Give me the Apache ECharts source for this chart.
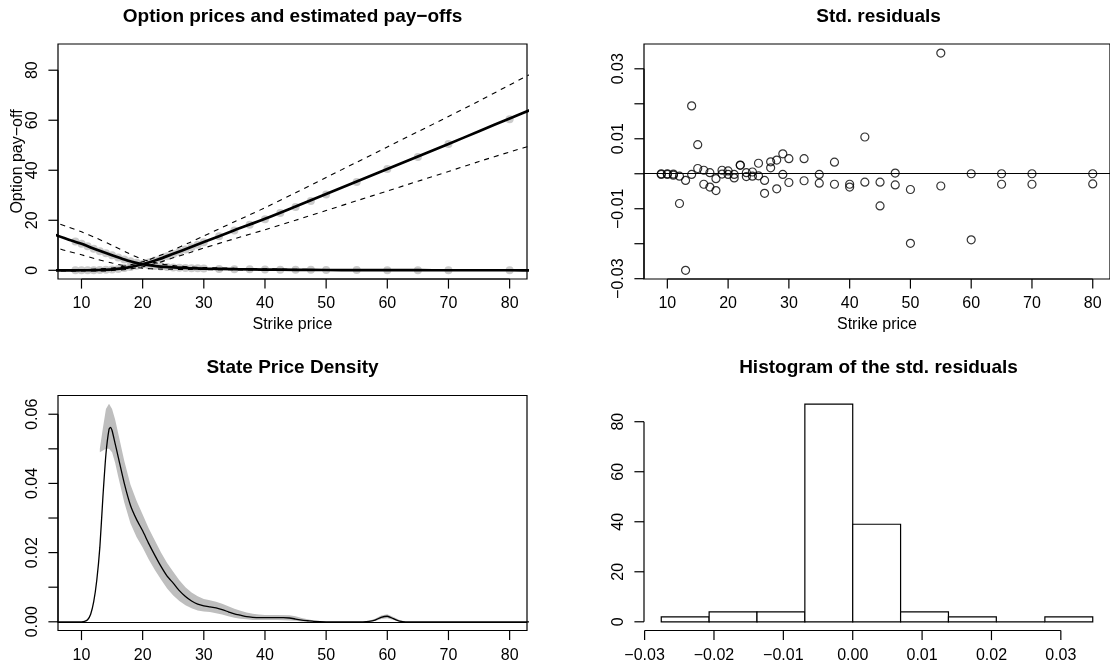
<!DOCTYPE html>
<html><head><meta charset="utf-8">
<script src="https://cdn.jsdelivr.net/npm/echarts@6/dist/echarts.min.js"></script>
<style>html,body{margin:0;padding:0;background:#fff}#c{width:1110px;height:669px}</style>
</head><body><div id="c"></div>
<script>
const FONT = '"Liberation Sans", Arial, Helvetica, sans-serif';

// ---- Panel 1: option prices and estimated pay-offs ----
const curveK   = [5, 7.5, 10, 12.5, 15, 17.5, 20, 22.5, 25, 27.5, 30, 35, 40, 45, 50, 55, 60, 65, 70, 75, 80, 85];
const putFit   = [0, 0, 0.02, 0.1, 0.35, 1.1, 2.4, 4.3, 6.6, 8.9, 11.3, 16.0, 20.6, 25.5, 30.5, 35.5, 40.5, 45.5, 50.5, 55.6, 60.7, 65.7];
const putUpper = [0.3, 0.3, 0.3, 0.5, 0.9, 1.9, 3.4, 5.6, 8.2, 10.9, 13.7, 19.4, 25.0, 31.0, 37.1, 43.2, 49.3, 55.4, 61.5, 67.7, 74.1, 80.5];
const putLower = [-0.3, -0.3, -0.3, -0.3, -0.1, 0.4, 1.4, 3.0, 5.0, 6.9, 8.9, 12.6, 16.2, 20.0, 23.9, 27.8, 31.7, 35.6, 39.5, 43.5, 47.3, 50.9];
const callFit   = [14.8, 12.6, 10.6, 8.2, 6.0, 3.9, 2.4, 1.6, 1.15, 0.9, 0.7, 0.45, 0.3, 0.2, 0.12, 0.08, 0.05, 0.03, 0.02, 0.01, 0.01, 0];
const callUpper = [19.8, 17.6, 15.4, 12.8, 10.0, 7.0, 4.4, 2.8, 1.9, 1.4, 1.1, 0.8, 0.6, 0.4, 0.3, 0.2, 0.15, 0.1, 0.1, 0.1, 0.1, 0.1];
const callLower = [9.8, 7.8, 6.2, 4.4, 2.9, 1.6, 0.8, 0.5, 0.4, 0.35, 0.3, 0.2, 0.1, 0.05, 0, 0, 0, 0, 0, 0, 0, 0];

const strikes = [9, 10, 11, 12, 13, 14, 15, 16, 17, 18, 19, 20, 21, 22, 23, 24, 25, 26, 27, 28, 29, 30,
                 32.5, 35, 37.5, 40, 42.5, 45, 47.5, 50, 55, 60, 65, 70, 80];
const putObs  = [0, 0, 0, 0.05, 0.1, 0.2, 0.3, 0.5, 0.9, 1.3, 1.8, 2.4, 3.1, 3.9, 4.7, 5.6, 6.5, 7.4, 8.3, 9.2, 10.2, 11.2,
                 13.6, 15.9, 18.2, 20.4, 22.9, 25.3, 27.7, 30.3, 35.3, 40.5, 45.3, 50.5, 60.4];
const callObs = [11.5, 10.6, 9.6, 8.6, 7.6, 6.8, 6.0, 5.1, 4.3, 3.6, 3.0, 2.4, 2.0, 1.7, 1.5, 1.3, 1.15, 1.05, 0.95, 0.85, 0.8, 0.7,
                 0.55, 0.45, 0.38, 0.3, 0.25, 0.2, 0.18, 0.12, 0.08, 0.05, 0.03, 0.02, 0.01];

// ---- Panel 2: standardized residuals ----
const residA = [-0.0002, -0.0002, -0.0004, -0.0007, -0.0019, -0.0002, 0.0015, 0.0010, 0.0003, -0.0014, 0.0010, 0.0008, -0.0002, 0.0025, 0.0003, 0.0005, 0.0030, -0.0019, 0.0034, 0.0039, 0.0057, 0.0043,
                0.0043, -0.0002, 0.0033, -0.0030, 0.0105, -0.0024, 0.0002, -0.0045, 0.0345, 0.0000, 0.0000, 0.0000, 0.0000];
const residB = [0.0000, 0.0000, -0.0001, -0.0085, -0.0276, 0.0194, 0.0083, -0.0030, -0.0038, -0.0048, -0.0001, -0.0002, -0.0012, 0.0024, -0.0008, -0.0007, -0.0006, -0.0056, 0.0017, -0.0043, -0.0002, -0.0025,
                -0.0020, -0.0027, -0.0030, -0.0038, -0.0024, -0.0092, -0.0032, -0.0199, -0.0035, -0.0189, -0.0030, -0.0030, -0.0029];

// ---- Panel 3: state price density ----
const spdX = [6, 8, 10, 10.5, 11, 11.5, 12, 12.5, 13, 13.5, 14, 14.5, 14.75, 15, 15.5, 16,
              17, 18, 19, 20, 21, 22, 23, 24, 25, 26, 27, 28, 29, 30, 31, 32, 33, 34, 35, 36, 37, 38, 39, 40, 41, 42, 43, 44, 45, 46, 47, 48,
              50, 52, 54, 56, 57, 58, 59, 60, 61, 62, 63, 64, 66, 70, 75, 80, 84];
const spdY = [0, 0, 0, 0.0001, 0.0006, 0.0022, 0.0058, 0.0120, 0.0215, 0.0360, 0.0485, 0.0556, 0.0562, 0.0553, 0.0515, 0.0477,
              0.0400, 0.0337, 0.0296, 0.0263, 0.0226, 0.0192, 0.0160, 0.0132, 0.0112, 0.0090, 0.0073, 0.0060, 0.0051, 0.0046, 0.0043, 0.0040, 0.0035, 0.0029, 0.0023, 0.0019, 0.0015, 0.0013, 0.0012, 0.0012, 0.0012, 0.0012, 0.0012, 0.0011, 0.0008, 0.0005, 0.0003, 0.0001,
              0, 0, 0, 0, 0.0001, 0.0005, 0.0013, 0.0016, 0.0009, 0.0002, 0, 0, 0, 0, 0, 0, 0];
const bandX  = [13, 13.5, 14, 14.5, 15, 15.5, 16,
                17, 18, 19, 20, 21, 22, 23, 24, 25, 26, 27, 28, 29, 30, 31, 32, 33, 34, 35, 36, 37, 38, 39, 40,
                42, 44, 45, 46, 47, 48, 50, 56, 57, 58, 59, 60, 61, 62, 63, 64];
const bandHi = [0.0500, 0.0560, 0.0615, 0.0630, 0.0615, 0.0585, 0.0545,
                0.0465, 0.0397, 0.0350, 0.0310, 0.0270, 0.0235, 0.0200, 0.0170, 0.0145, 0.0120, 0.0100, 0.0085, 0.0074, 0.0066, 0.0062, 0.0058, 0.0052, 0.0045, 0.0038, 0.0032, 0.0027, 0.0023, 0.0021, 0.0020,
                0.0020, 0.0019, 0.0016, 0.0011, 0.0007, 0.0004, 0.0001, 0.0001, 0.0003, 0.0009, 0.0018, 0.0022, 0.0014, 0.0005, 0.0001, 0];
const bandLo = [0.0490, 0.0495, 0.0500, 0.0500, 0.0490, 0.0460, 0.0420,
                0.0345, 0.0285, 0.0245, 0.0215, 0.0180, 0.0150, 0.0122, 0.0096, 0.0076, 0.0060, 0.0048, 0.0039, 0.0033, 0.0030, 0.0028, 0.0025, 0.0021, 0.0016, 0.0012, 0.0009, 0.0007, 0.0005, 0.0005, 0.0005,
                0.0005, 0.0004, 0.0003, 0.0001, 0, 0, 0, 0, 0, 0.0002, 0.0008, 0.0010, 0.0005, 0.0001, 0, 0];

// ---- Panel 4: histogram of residuals ----
const histBreaks = [-0.0276, -0.0207, -0.0138, -0.0069, 0.0000, 0.0069, 0.0138, 0.0207, 0.0277, 0.0346];
const histCounts = [2, 4, 4, 87, 39, 4, 2, 0, 2];

// ---- Ticks and labels ----
const strikeTicks = [10, 20, 30, 40, 50, 60, 70, 80];
const strikeLabels = ['10', '20', '30', '40', '50', '60', '70', '80'];
const payTicks = [0, 20, 40, 60, 80];
const payLabels = ['0', '20', '40', '60', '80'];
const resTicks = [-0.03, -0.02, -0.01, 0, 0.01, 0.02, 0.03];
const resYLabels = ['\u22120.03', '', '\u22120.01', '', '0.01', '', '0.03'];
const resXLabels = ['\u22120.03', '\u22120.02', '\u22120.01', '0.00', '0.01', '0.02', '0.03'];
const spdTicks = [0, 0.01, 0.02, 0.03, 0.04, 0.05, 0.06];
const spdLabels = ['0.00', '', '0.02', '', '0.04', '', '0.06'];
const titles = ['Option prices and estimated pay\u2212offs', 'Std. residuals', 'State Price Density', 'Histogram of the std. residuals'];

// ---- layout ----
const G = [
  {left: 58, top: 44, width: 469, height: 235, box: true},
  {left: 644, top: 44, width: 469, height: 235, box: true},
  {left: 58, top: 395.5, width: 469, height: 235, box: true},
  {left: 644, top: 395.5, width: 469, height: 235, box: false}
];
const XR = [[6.16, 82.84], [6.16, 82.84], [6.16, 82.84], [-0.030088, 0.037088]];
const YR = [[-3.48, 90.48], [-0.030088, 0.037088], [-0.002516, 0.065416], [-3.48, 90.48]];

const LW = 1.2;
function txtStyle(text, size, weight) {
  return {text: text, x: 0, y: 0, font: (weight || 'normal') + ' ' + size + 'px ' + FONT, fill: '#000',
          align: 'center', verticalAlign: 'middle', textAlign: 'center', textVerticalAlign: 'middle'};
}
function rAxis(gi, side, ticks, labels, title) {
  return {
    type: 'custom', xAxisIndex: gi, yAxisIndex: gi, silent: true, z: 10, clip: false,
    data: [[XR[gi][0], YR[gi][0]]],
    renderItem: function (params, api) {
      const cs = params.coordSys;
      const ch = [];
      const TL = 9.6, LG = 25;
      if (side === 'x') {
        const yb = cs.y + cs.height;
        const px = ticks.map(t => api.coord([t, YR[gi][0]])[0]);
        ch.push({type: 'line', shape: {x1: px[0], y1: yb, x2: px[px.length - 1], y2: yb}, style: {stroke: '#000', lineWidth: LW}});
        px.forEach((p, i) => {
          ch.push({type: 'line', shape: {x1: p, y1: yb, x2: p, y2: yb + TL}, style: {stroke: '#000', lineWidth: LW}});
          if (labels[i]) ch.push({type: 'text', x: p, y: yb + LG, style: txtStyle(labels[i], 16)});
        });
        if (title) ch.push({type: 'text', x: cs.x + cs.width / 2, y: yb + 46, style: txtStyle(title, 16)});
      } else {
        const xl = cs.x;
        const py = ticks.map(t => api.coord([XR[gi][0], t])[1]);
        ch.push({type: 'line', shape: {x1: xl, y1: py[0], x2: xl, y2: py[py.length - 1]}, style: {stroke: '#000', lineWidth: LW}});
        py.forEach((p, i) => {
          ch.push({type: 'line', shape: {x1: xl - TL, y1: p, x2: xl, y2: p}, style: {stroke: '#000', lineWidth: LW}});
          if (labels[i]) ch.push({type: 'text', x: xl - LG, y: p, rotation: Math.PI / 2, style: txtStyle(labels[i], 16)});
        });
        if (title) ch.push({type: 'text', x: xl - 40, y: cs.y + cs.height / 2, rotation: Math.PI / 2, style: txtStyle(title, 16)});
      }
      return {type: 'group', children: ch};
    }
  };
}
function pairs(xs, ys) { return xs.map((x, i) => [x, ys[i]]); }
function lineS(gi, xs, ys, width, dashed, z) {
  return {type: 'line', xAxisIndex: gi, yAxisIndex: gi, data: pairs(xs, ys), showSymbol: false, symbol: 'none',
          smooth: 0.3, clip: true, silent: true, z: z || 3,
          lineStyle: {color: '#000', width: width, type: dashed ? [5, 5] : 'solid'}};
}
const zeroLine = {silent: true, symbol: 'none', label: {show: false}, animation: false,
                  lineStyle: {color: '#000', width: LW, type: 'solid'}, data: [{yAxis: 0}]};

const option = {
  animation: false,
  backgroundColor: '#fff',
  grid: G.map(g => ({left: g.left, top: g.top, width: g.width, height: g.height, show: g.box,
                     borderColor: '#000', borderWidth: LW, backgroundColor: 'transparent', containLabel: false})),
  xAxis: G.map((g, i) => ({type: 'value', gridIndex: i, min: XR[i][0], max: XR[i][1], show: false, splitLine: {show: false}})),
  yAxis: G.map((g, i) => ({type: 'value', gridIndex: i, min: YR[i][0], max: YR[i][1], show: false, splitLine: {show: false}})),
  graphic: titles.map((t, i) => ({type: 'text', x: G[i].left + G[i].width / 2, y: G[i].top - 27.5, silent: true,
                                  style: txtStyle(t, 19, 'bold')})),
  series: [
    // panel 1
    {type: 'scatter', xAxisIndex: 0, yAxisIndex: 0, data: pairs(strikes, putObs), symbolSize: 8, z: 1, silent: true,
     itemStyle: {color: '#bebebe'}},
    {type: 'scatter', xAxisIndex: 0, yAxisIndex: 0, data: pairs(strikes, callObs), symbolSize: 8, z: 1, silent: true,
     itemStyle: {color: '#bebebe'}},
    lineS(0, curveK, putUpper, 1.1, true),
    lineS(0, curveK, putLower, 1.1, true),
    lineS(0, curveK, callUpper, 1.1, true),
    lineS(0, curveK, callLower, 1.1, true),
    lineS(0, curveK, putFit, 2.7, false, 4),
    lineS(0, curveK, callFit, 2.7, false, 4),
    rAxis(0, 'x', strikeTicks, strikeLabels, 'Strike price'),
    rAxis(0, 'y', payTicks, payLabels, 'Option pay\u2212off'),
    // panel 2
    {type: 'scatter', xAxisIndex: 1, yAxisIndex: 1, data: pairs(strikes, residA).concat(pairs(strikes, residB)),
     symbol: 'circle', symbolSize: 8, silent: true, z: 3,
     itemStyle: {color: 'rgba(255,255,255,0)', borderColor: '#000', borderWidth: 1.2},
     markLine: zeroLine},
    rAxis(1, 'x', strikeTicks, strikeLabels, 'Strike price'),
    rAxis(1, 'y', resTicks, resYLabels, null),
    // panel 3
    {type: 'custom', xAxisIndex: 2, yAxisIndex: 2, silent: true, z: 1, data: [[bandX[0], bandLo[0]]],
     renderItem: function (params, api) {
       const pts = [];
       for (let i = 0; i < bandX.length; i++) pts.push(api.coord([bandX[i], bandHi[i]]));
       for (let i = bandX.length - 1; i >= 0; i--) pts.push(api.coord([bandX[i], bandLo[i]]));
       return {type: 'polygon', shape: {points: pts}, style: {fill: '#bebebe', stroke: 'none'}};
     }},
    {type: 'line', xAxisIndex: 2, yAxisIndex: 2, data: pairs(spdX, spdY), showSymbol: false, symbol: 'none',
     smooth: 0.2, clip: true, silent: true, z: 3, lineStyle: {color: '#000', width: 1.3},
     markLine: zeroLine},
    rAxis(2, 'x', strikeTicks, strikeLabels, null),
    rAxis(2, 'y', spdTicks, spdLabels, null),
    // panel 4
    {type: 'custom', xAxisIndex: 3, yAxisIndex: 3, silent: true, z: 3,
     data: histCounts.map((c, i) => [histBreaks[i], histBreaks[i + 1], c]),
     encode: {x: [0, 1], y: 2},
     renderItem: function (params, api) {
       const p0 = api.coord([api.value(0), 0]);
       const p1 = api.coord([api.value(1), api.value(2)]);
       return {type: 'rect', shape: {x: p0[0], y: p1[1], width: p1[0] - p0[0], height: p0[1] - p1[1]},
               style: {fill: '#fff', stroke: '#000', lineWidth: LW}};
     }},
    rAxis(3, 'x', resTicks, resXLabels, null),
    rAxis(3, 'y', payTicks, payLabels, null)
  ]
};
const chart = echarts.init(document.getElementById('c'), null, {renderer: 'canvas'});
chart.setOption(option);
</script>
</body></html>
